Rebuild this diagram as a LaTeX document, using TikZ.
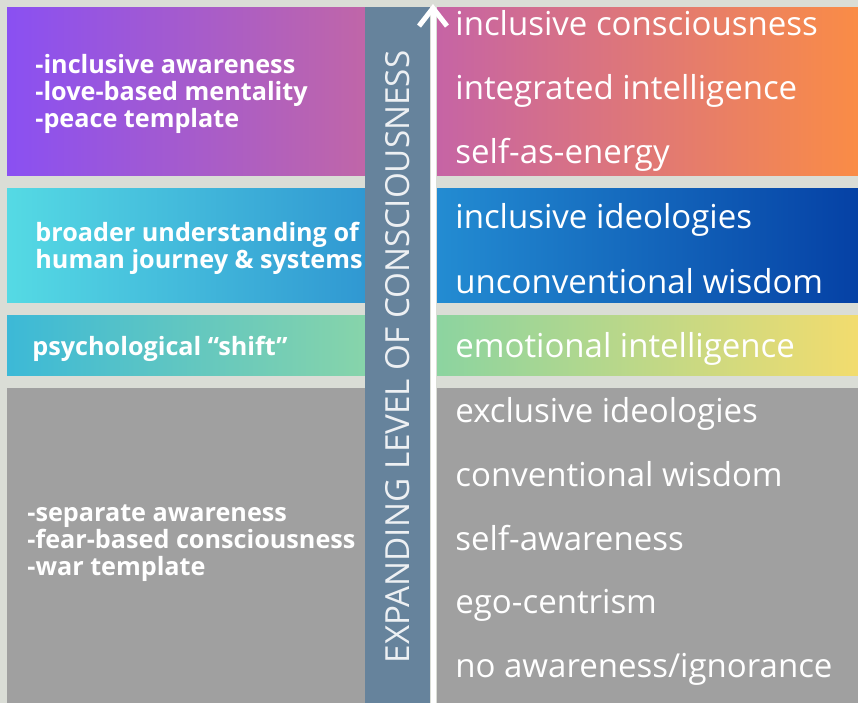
\documentclass[tikz,border=0pt]{standalone}
\usepackage{fontspec}
\setmainfont{Open Sans}
\usetikzlibrary{arrows.meta}
\definecolor{sand}{RGB}{218,221,214}
\definecolor{slate}{RGB}{102,131,156}
\definecolor{bandgray}{RGB}{160,160,160}
\definecolor{violetL}{RGB}{138,80,242}
\definecolor{violetR}{RGB}{192,102,168}
\definecolor{peachL}{RGB}{198,100,165}
\definecolor{peachR}{RGB}{250,140,70}
\definecolor{cyanL}{RGB}{85,218,228}
\definecolor{cyanR}{RGB}{48,152,210}
\definecolor{blueL}{RGB}{35,140,210}
\definecolor{blueR}{RGB}{5,65,165}
\definecolor{tealL}{RGB}{60,185,215}
\definecolor{tealR}{RGB}{135,212,170}
\definecolor{greenL}{RGB}{140,212,160}
\definecolor{greenR}{RGB}{242,220,110}
\begin{document}
\begin{tikzpicture}[x=0.5pt,y=-0.5pt,
  note/.style={anchor=base west,text=white,inner sep=0pt,align=left,
    font=\bfseries\fontsize{12.6}{13.5}\selectfont},
  level/.style={anchor=base west,text=white,inner sep=0pt,
    font=\fontsize{16.5}{20}\selectfont}]
\fill[sand] (0,0) rectangle (858,703);
\useasboundingbox (0,0) rectangle (858,703);
% left column
\shade[left color=violetL,right color=violetR] (7,7) rectangle (365,175);
\shade[left color=cyanL,right color=cyanR] (7,188) rectangle (365,302);
\shade[left color=tealL,right color=tealR] (7,315) rectangle (365,375);
\fill[bandgray] (7,388) rectangle (365,703);
% right column
\shade[left color=peachL,right color=peachR] (437,7) rectangle (858,175);
\shade[left color=blueL,right color=blueR] (437,188) rectangle (858,302);
\shade[left color=greenL,right color=greenR] (437,315) rectangle (858,375);
\fill[bandgray] (437,388) rectangle (858,703);
% axis
\fill[slate] (365,7) rectangle (430,703);
\node(AX)[rotate=90,text=white!88!slate,inner sep=0pt,font=\fontsize{16.6}{18}\selectfont]
  at (398,357) {EXPANDING LEVEL OF CONSCIOUSNESS};
\coordinate (AB) at (433,703);
\coordinate (AT) at (433,4);
\draw[white,line width=2.5pt,-{Straight Barb[length=9pt,width=14pt]}] (AB) -- (AT);

% base anchor sits on the last line
\node(LOVE)[note] at (35,127) {-inclusive awareness\\-love-based mentality\\-peace template};
\node(BROAD)[note] at (35,268) {broader understanding of\\human journey \& systems};
\node(SHIFT)[note] at (32,355) {psychological “shift”};
\node(FEAR)[note] at (27,575) {-separate awareness\\-fear-based consciousness\\-war template};

\node(IC)[level] at (455,35) {inclusive consciousness};
\node(II)[level] at (455,99) {integrated intelligence};
\node(SE)[level] at (455,163) {self-as-energy};
\node(ID)[level] at (455,228) {inclusive ideologies};
\node(UW)[level] at (455,293) {unconventional wisdom};
\node(EI)[level] at (455,357) {emotional intelligence};
\node(XI)[level] at (455,422) {exclusive ideologies};
\node(CW)[level] at (455,486) {conventional wisdom};
\node(SA)[level] at (455,550) {self-awareness};
\node(EC)[level] at (455,613) {ego-centrism};
\node(NA)[level] at (455,677) {no awareness/ignorance};
\end{tikzpicture}
\end{document}
